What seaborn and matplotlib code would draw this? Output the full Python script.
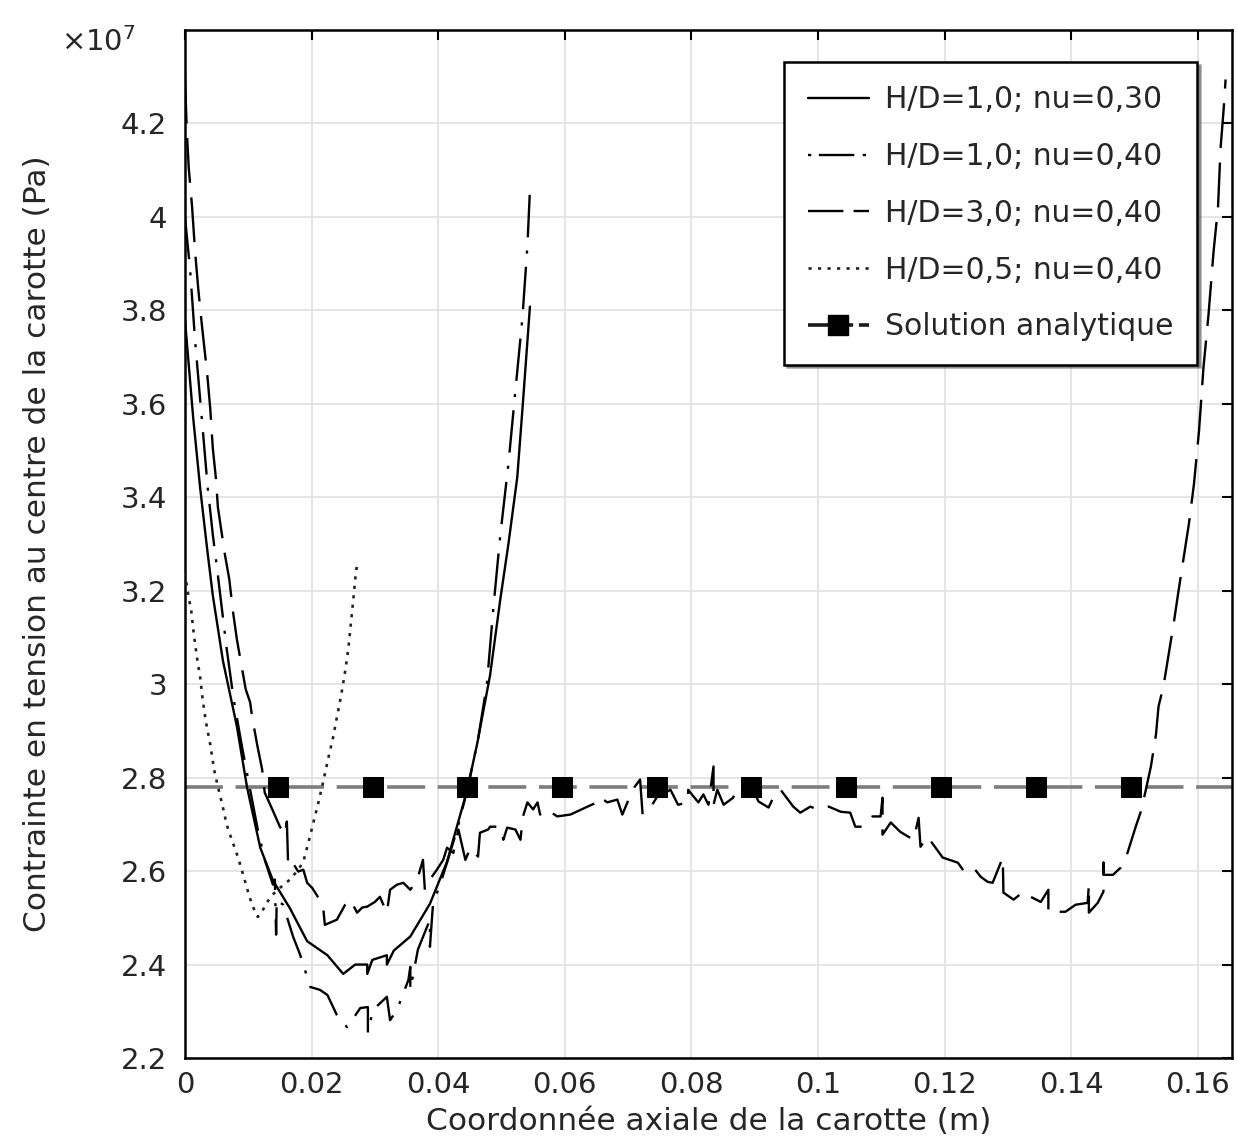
import matplotlib
matplotlib.use("Agg")
import matplotlib.pyplot as plt
from matplotlib.lines import Line2D
import seaborn as sns
import numpy as np
import pandas as pd

# ---------------- data (x in m, y in units of 1e7 Pa) ----------------
labels = ["H/D=1,0; nu=0,30", "H/D=1,0; nu=0,40", "H/D=3,0; nu=0,40",
          "H/D=0,5; nu=0,40", "Solution analytique"]

x_hd1_nu30 = [0.0, 0.0013, 0.0024, 0.0035, 0.0044, 0.0060, 0.0082, 0.0098, 0.0119,
              0.0139, 0.0166, 0.0193, 0.0225, 0.0250, 0.0269, 0.0288, 0.0288, 0.0296,
              0.0319, 0.0319, 0.0330, 0.0356, 0.0387, 0.0414, 0.0446, 0.0462, 0.0482,
              0.0498, 0.0511, 0.0525, 0.0534, 0.0545]
y_hd1_nu30 = [3.78, 3.57, 3.42, 3.29, 3.19, 3.05, 2.91, 2.78, 2.65,
              2.58, 2.52, 2.45, 2.42, 2.38, 2.40, 2.40, 2.38, 2.41,
              2.42, 2.40, 2.43, 2.46, 2.53, 2.62, 2.774, 2.875, 3.019,
              3.18, 3.30, 3.443, 3.604, 3.808]

x_hd1_nu40 = [0.0, 0.0005, 0.0008, 0.0016, 0.0026, 0.0036, 0.0044, 0.0052, 0.0066,
              0.0077, 0.0090, 0.0103, 0.0115, 0.0126, 0.0139, 0.0142, 0.0144, 0.0145,
              0.0155, 0.0171, 0.0182, 0.0198, 0.0213, 0.0225, 0.0240, 0.0256, 0.0264,
              0.0277, 0.0289, 0.0289, 0.0297, 0.0319, 0.0324, 0.0335, 0.0353, 0.0356,
              0.0356, 0.0368, 0.0387, 0.0387, 0.0392, 0.0403, 0.0414, 0.0430, 0.0446,
              0.0463, 0.0477, 0.0487, 0.0498, 0.0511, 0.0522, 0.0533, 0.0541, 0.0545]
y_hd1_nu40 = [4.00, 3.93, 3.89, 3.735, 3.578, 3.42, 3.32, 3.233, 3.075,
              2.967, 2.867, 2.774, 2.689, 2.624, 2.571, 2.582, 2.464, 2.539,
              2.528, 2.459, 2.421, 2.352, 2.346, 2.335, 2.292, 2.266, 2.281,
              2.307, 2.309, 2.254, 2.303, 2.331, 2.281, 2.303, 2.367, 2.395,
              2.346, 2.432, 2.496, 2.438, 2.532, 2.571, 2.618, 2.689, 2.774,
              2.882, 3.00, 3.16, 3.317, 3.471, 3.628, 3.782, 3.938, 4.058]

x_hd3_nu40 = [0.0, 0.0003, 0.0006, 0.0011, 0.0016, 0.0021, 0.0027, 0.0035, 0.0040,
              0.0044, 0.0049, 0.0052, 0.0063, 0.0070, 0.0076, 0.0082, 0.0089, 0.0096,
              0.0103, 0.0106, 0.0114, 0.0122, 0.0126, 0.0138, 0.0150, 0.0158, 0.0161,
              0.0163, 0.0169, 0.0179, 0.0187, 0.0193, 0.0201, 0.0210, 0.0218, 0.0221,
              0.0240, 0.0253, 0.0261, 0.0272, 0.0280, 0.0288, 0.0300, 0.0308, 0.0319,
              0.0324, 0.0335, 0.0345, 0.0356, 0.0367, 0.0376, 0.0379, 0.0387, 0.0398,
              0.0408, 0.0414, 0.0424, 0.0432, 0.0443, 0.0451, 0.0463, 0.0466, 0.0479,
              0.0482, 0.0498, 0.0503, 0.0509, 0.0522, 0.0530, 0.0534, 0.0541, 0.0550,
              0.0557, 0.0561, 0.0572, 0.0588, 0.0609, 0.0636, 0.0651, 0.0656, 0.0667,
              0.0683, 0.0691, 0.0699, 0.0707, 0.0719, 0.0723, 0.0738, 0.0746, 0.0767,
              0.0779, 0.0795, 0.0795, 0.0811, 0.0819, 0.0827, 0.0835, 0.0835, 0.0841,
              0.0851, 0.0866, 0.0873, 0.0889, 0.0898, 0.0906, 0.0922, 0.0933, 0.0941,
              0.0961, 0.0972, 0.0988, 0.0999, 0.1017, 0.1036, 0.1051, 0.1059, 0.1072,
              0.1086, 0.1099, 0.1102, 0.1102, 0.1115, 0.1130, 0.1151, 0.1159, 0.1162,
              0.1173, 0.1197, 0.1221, 0.1231, 0.1246, 0.1257, 0.1268, 0.1276, 0.1292,
              0.1293, 0.1309, 0.1325, 0.1336, 0.1352, 0.1364, 0.1364, 0.1375, 0.1391,
              0.1407, 0.1426, 0.1428, 0.1428, 0.1442, 0.1451, 0.1451, 0.1451, 0.1466,
              0.1478, 0.1489, 0.1502, 0.1510, 0.1518, 0.1526, 0.1534, 0.1538, 0.1546,
              0.1554, 0.1562, 0.1570, 0.1576, 0.1586, 0.1594, 0.1602, 0.1609, 0.1617,
              0.1625, 0.1632, 0.1636, 0.1641, 0.1644]
y_hd3_nu40 = [4.296, 4.183, 4.104, 4.026, 3.926, 3.846, 3.765, 3.666, 3.589,
              3.505, 3.439, 3.379, 3.278, 3.225, 3.154, 3.096, 3.042, 2.989,
              2.961, 2.931, 2.871, 2.817, 2.768, 2.732, 2.695, 2.678, 2.706,
              2.612, 2.620, 2.599, 2.603, 2.575, 2.564, 2.545, 2.528, 2.485,
              2.496, 2.528, 2.539, 2.511, 2.522, 2.524, 2.534, 2.545, 2.511,
              2.560, 2.571, 2.575, 2.560, 2.582, 2.624, 2.560, 2.582, 2.603,
              2.624, 2.650, 2.639, 2.689, 2.624, 2.650, 2.631, 2.682, 2.689,
              2.695, 2.695, 2.667, 2.693, 2.689, 2.667, 2.717, 2.747, 2.732,
              2.747, 2.721, 2.732, 2.717, 2.721, 2.738, 2.747, 2.759, 2.747,
              2.753, 2.721, 2.747, 2.774, 2.796, 2.721, 2.742, 2.759, 2.774,
              2.742, 2.747, 2.774, 2.747, 2.764, 2.742, 2.824, 2.742, 2.774,
              2.742, 2.757, 2.781, 2.781, 2.774, 2.749, 2.736, 2.768, 2.774,
              2.738, 2.725, 2.738, 2.732, 2.738, 2.727, 2.725, 2.695, 2.695,
              2.717, 2.717, 2.757, 2.678, 2.704, 2.684, 2.667, 2.714, 2.652,
              2.674, 2.629, 2.618, 2.599, 2.607, 2.588, 2.577, 2.575, 2.629,
              2.554, 2.539, 2.556, 2.545, 2.534, 2.560, 2.511, 2.513, 2.513,
              2.528, 2.532, 2.571, 2.511, 2.532, 2.556, 2.618, 2.592, 2.592,
              2.607, 2.639, 2.695, 2.727, 2.774, 2.824, 2.892, 2.952, 2.997,
              3.064, 3.130, 3.203, 3.255, 3.343, 3.428, 3.542, 3.677, 3.791,
              3.926, 4.020, 4.146, 4.232, 4.294]

x_hd05_nu40 = [0.0, 0.0005, 0.0010, 0.0014, 0.0019, 0.0024, 0.0028, 0.0033, 0.0040,
               0.0046, 0.0052, 0.0059, 0.0066, 0.0074, 0.0084, 0.0092, 0.0100, 0.0106,
               0.0111, 0.0115, 0.0122, 0.0127, 0.0138, 0.0150, 0.0166, 0.0179, 0.0187,
               0.0195, 0.0202, 0.0210, 0.0218, 0.0226, 0.0234, 0.0240, 0.0247, 0.0253,
               0.0258, 0.0262, 0.0266, 0.0269, 0.0272]
y_hd05_nu40 = [3.238, 3.193, 3.156, 3.107, 3.057, 3.015, 2.967, 2.920, 2.871,
               2.817, 2.781, 2.742, 2.699, 2.667, 2.629, 2.592, 2.554, 2.528,
               2.513, 2.502, 2.513, 2.528, 2.549, 2.564, 2.582, 2.603, 2.620,
               2.661, 2.699, 2.742, 2.789, 2.839, 2.886, 2.929, 2.978, 3.027,
               3.075, 3.128, 3.182, 3.225, 3.257]

x_analytic = [0.0, 0.0147, 0.0297, 0.0446, 0.0596, 0.0745, 0.0895, 0.1045,
              0.1194, 0.1344, 0.1494, 0.1654]
y_analytic = [2.78] * len(x_analytic)

x_ticks = [0, 0.02, 0.04, 0.06, 0.08, 0.1, 0.12, 0.14, 0.16]
x_ticklabels = ["0", "0.02", "0.04", "0.06", "0.08", "0.1", "0.12", "0.14", "0.16"]
y_ticks = [2.2, 2.4, 2.6, 2.8, 3.0, 3.2, 3.4, 3.6, 3.8, 4.0, 4.2]
y_ticklabels = ["2.2", "2.4", "2.6", "2.8", "3", "3.2", "3.4", "3.6", "3.8", "4", "4.2"]

# ---------------- style ----------------
sns.set_theme(style="whitegrid")
plt.rcParams["font.family"] = ["DejaVu Sans"]
plt.rcParams["axes.unicode_minus"] = False
TXT = "#262626"

fig = plt.figure(figsize=(12.38, 11.39), dpi=100)
ax = fig.add_axes([0.1494, 0.0711, 0.8457, 0.9026])
ax.set_facecolor("white")

lw = 1.7
styles = ["-", (0, (18, 5.6, 1.3, 5.6)), (0, (19, 6.2)), (0, (1.2, 2.4))]
leg_styles = ["-", (0, (1.4, 3.2, 15, 3.6, 1.4, 10)), (0, (15, 4.3)), (0, (1.2, 2.4))]
colors = ["black", "black", "black", "#222222"]
widths = [lw, lw, lw, 1.9]
data_series = [(x_hd1_nu30, y_hd1_nu30), (x_hd1_nu40, y_hd1_nu40),
               (x_hd3_nu40, y_hd3_nu40), (x_hd05_nu40, y_hd05_nu40)]

handles = []
for (xs, ys), lab, ls, lls, col, w in zip(data_series, labels[:4], styles,
                                          leg_styles, colors, widths):
    df = pd.DataFrame({"x": xs, "y": ys})
    sns.lineplot(data=df, x="x", y="y", ax=ax, sort=False, estimator=None,
                 color=col, linewidth=w, linestyle=ls, zorder=3, legend=False)
    handles.append(Line2D([], [], color=col, linewidth=w, linestyle=lls))

dfa = pd.DataFrame({"x": x_analytic, "y": y_analytic})
sns.lineplot(data=dfa, x="x", y="y", ax=ax, sort=False, estimator=None,
             color="#7d7d7d", linewidth=2.6, linestyle=(0, (10.5, 3.5)),
             marker="s", markersize=15, markerfacecolor="black",
             markeredgecolor="black", markevery=list(range(1, len(x_analytic) - 1)),
             zorder=2, legend=False)
handles.append(Line2D([], [], color="#1a1a1a", linewidth=2.6,
                      linestyle=(0, (12.5, 1.6, 10, 3)), marker="s", markersize=15,
                      markerfacecolor="black", markeredgecolor="black"))

ax.set_xlim(0, 0.1654)
ax.set_ylim(2.2, 4.4)
ax.set_xticks(x_ticks)
ax.set_xticklabels(x_ticklabels)
ax.set_yticks(y_ticks)
ax.set_yticklabels(y_ticklabels)
ax.grid(True, color="#e3e3e3", linewidth=1.3)
ax.tick_params(direction="in", top=True, right=True, length=7, width=1.5,
               colors="black", labelcolor=TXT, labelsize=21)
ax.tick_params(axis="y", pad=13)
ax.tick_params(axis="x", pad=9)
for sp in ax.spines.values():
    sp.set_visible(True)
    sp.set_color("black")
    sp.set_linewidth(1.8)

ax.set_xlabel("Coordonnée axiale de la carotte (m)", fontsize=22.5, color=TXT, labelpad=6)
ax.set_ylabel("Contrainte en tension au centre de la carotte (Pa)", fontsize=22.5,
              color=TXT, labelpad=49)
ax.text(-0.118, 0.988, r"$\times10^{7}$", transform=ax.transAxes, fontsize=21,
        color=TXT, ha="left", va="center")

leg = ax.legend(handles=handles, labels=labels, loc="upper right",
                bbox_to_anchor=(0.9666, 0.9689), borderaxespad=0, fontsize=21.5,
                frameon=True, fancybox=False, shadow=True, framealpha=1,
                handlelength=2.05, handletextpad=0.55, labelspacing=0.93,
                borderpad=0.78, edgecolor="black")
leg.get_frame().set_linewidth(1.8)
for t in leg.get_texts():
    t.set_color(TXT)

fig.savefig("out.png", dpi=100)
